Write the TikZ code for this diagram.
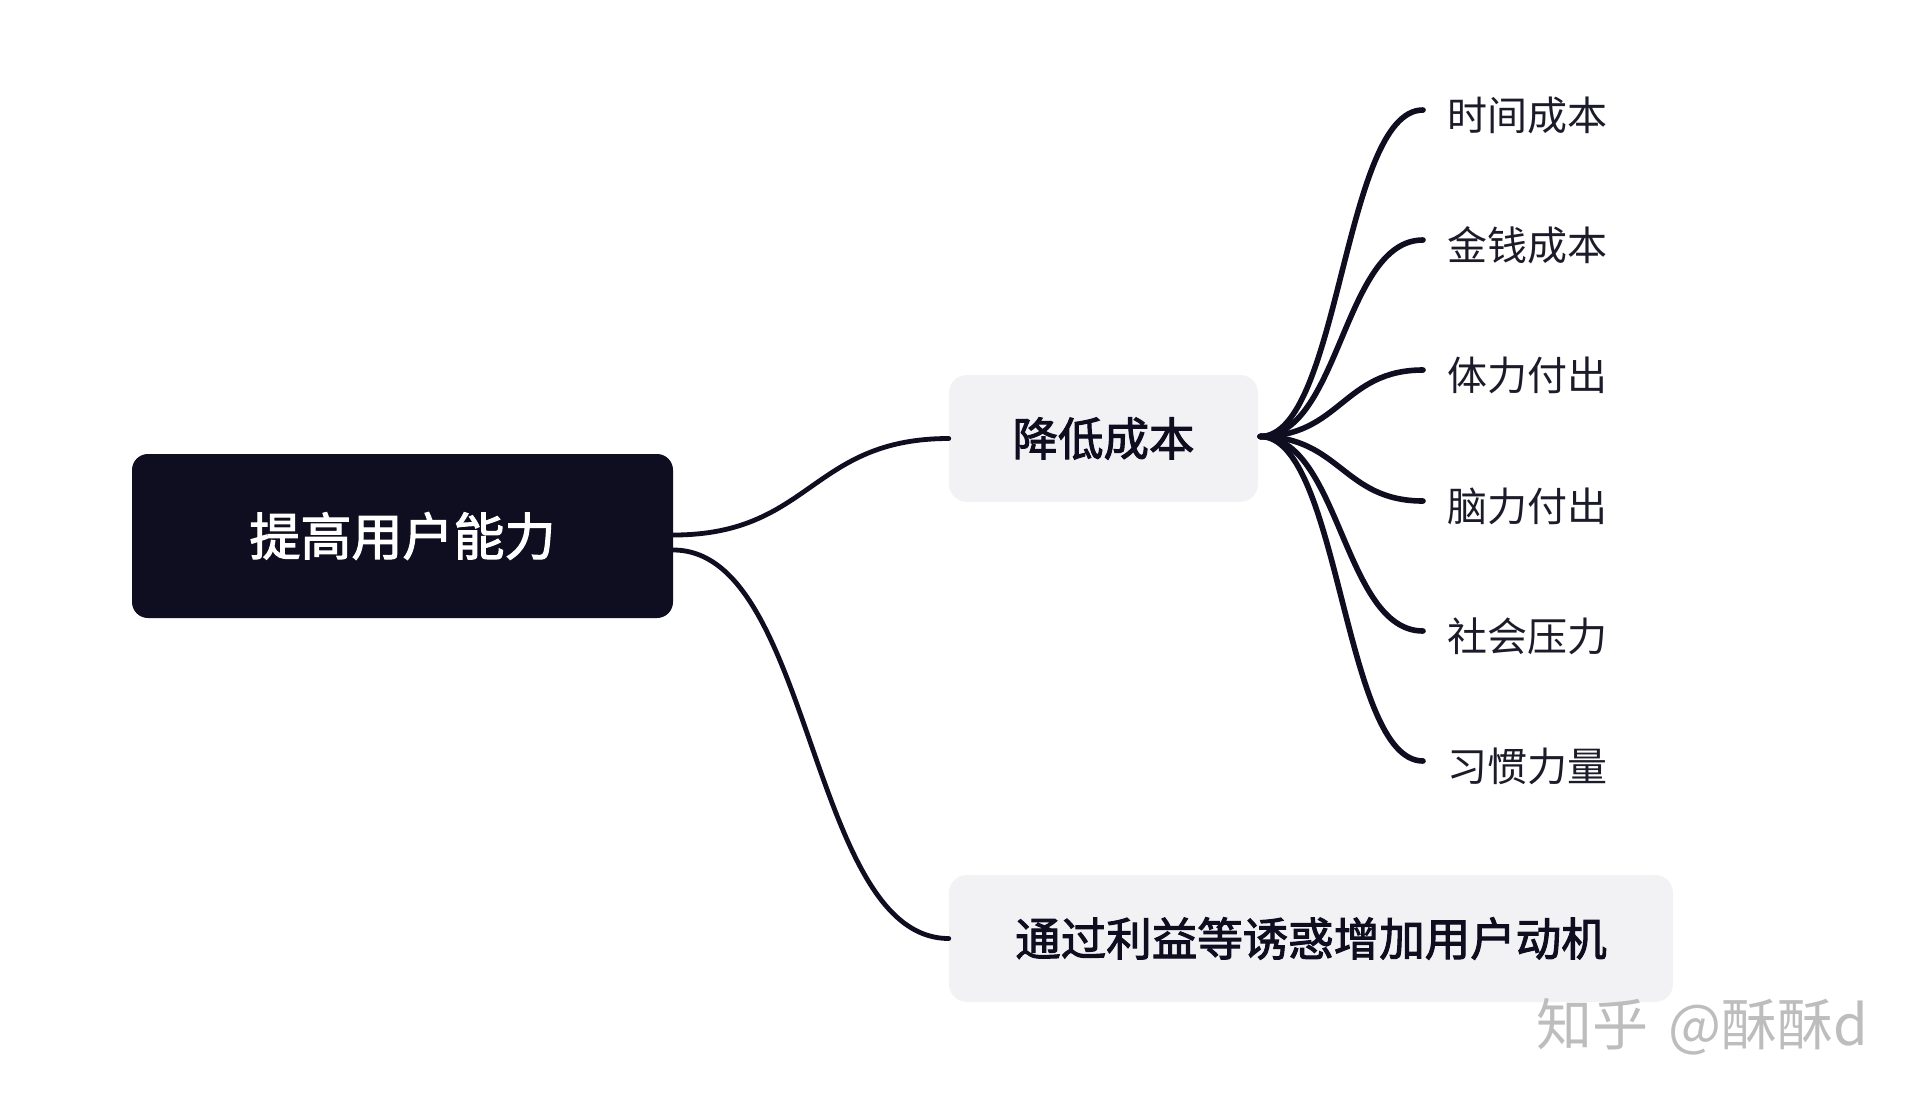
\documentclass[tikz,border=0pt]{standalone}
\usepackage{fontspec}
\newfontfamily\cjk{Noto Sans CJK SC}
\newfontfamily\cjkmed[FakeBold=2.2]{Noto Sans CJK SC}
\definecolor{navy}{HTML}{0F0D20}
\definecolor{boxgray}{HTML}{F2F2F4}
\definecolor{leaftext}{HTML}{1C1B2A}
\definecolor{wmgray}{HTML}{BDBDBD}
\begin{document}
\begin{tikzpicture}[x=1pt,y=-1pt,
  rootbox/.style={rectangle,rounded corners=16pt,fill=navy,text=white,minimum width=541pt,minimum height=164pt,inner sep=0pt,font=\cjkmed\fontsize{51}{60}\selectfont},
  subbox/.style={rectangle,rounded corners=18pt,fill=boxgray,text=navy,minimum height=127pt,inner sep=0pt,font=\cjkmed\fontsize{45.5}{54}\selectfont},
  leaf/.style={anchor=west,inner xsep=24pt,inner ysep=0pt,text=leaftext,font=\cjk\fontsize{40}{48}\selectfont},
  conn/.style={draw=navy,line width=4.8pt,line cap=round},
  leafconn/.style={draw=navy,line width=5.6pt,line cap=round}]
\useasboundingbox[fill=white] (0,0) rectangle (1920,1104);

\node[rootbox] (root) at (402.5,536) {\raisebox{-5pt}{提高用户能力}};
\node[subbox,minimum width=309pt] (cost) at (1103.5,438.5) {\raisebox{-3.5pt}{降低成本}};
\node[subbox,minimum width=724pt] (motive) at (1311,938.5) {\raisebox{-2.5pt}{通过利益等诱惑增加用户动机}};

\node[leaf] (l1) at (1423,115) {时间成本};
\node[leaf] (l2) at (1423,245) {金钱成本};
\node[leaf] (l3) at (1423,375) {体力付出};
\node[leaf] (l4) at (1423,506) {脑力付出};
\node[leaf] (l5) at (1423,636) {社会压力};
\node[leaf] (l6) at (1423,766) {习惯力量};

\draw[conn] ([yshift=1pt]root.east) .. controls +(138,0) and +(-138,0) .. (cost.west);
\draw[conn] ([yshift=-14pt]root.east) .. controls +(140,0) and +(-140,0) .. (motive.west);

\foreach \l in {l1,l2,l3,l4,l5,l6}{
  \draw[leafconn] ([xshift=2pt,yshift=2pt]cost.east) .. controls +(80,0) and +(-80,0) .. ([yshift=5pt]\l.west);
}

\node[anchor=west,inner sep=0pt,text=wmgray,font=\cjk\fontsize{56}{64}\selectfont] (wm) at (1536,1027) {知乎\hspace{8pt} @酥酥d};
\end{tikzpicture}
\end{document}
